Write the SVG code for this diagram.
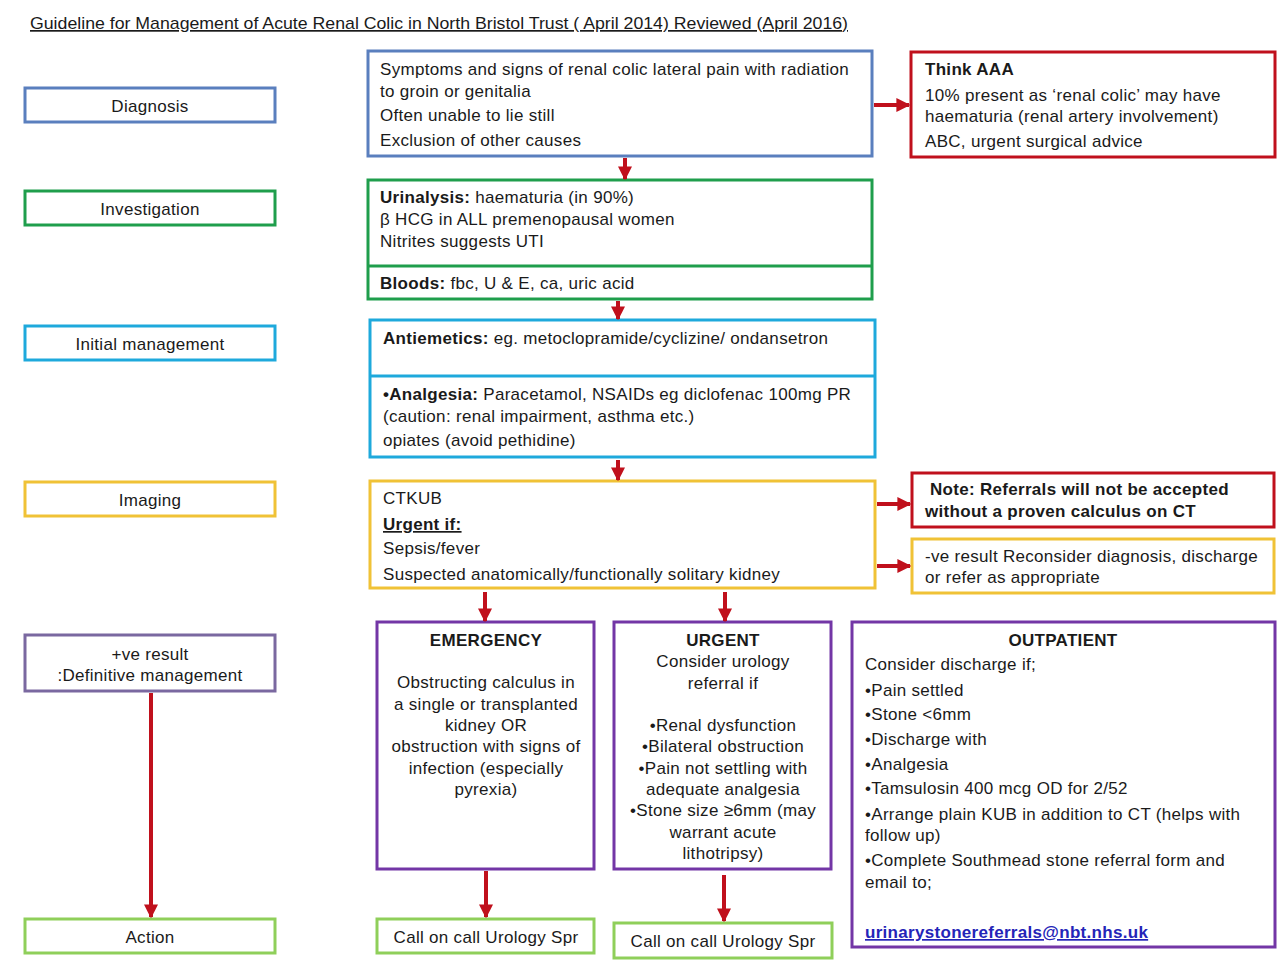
<svg xmlns="http://www.w3.org/2000/svg" width="1280" height="960" viewBox="0 0 1280 960">
<style>
text{font-family:"Liberation Sans",Arial,sans-serif;font-size:17px;letter-spacing:0.3px;fill:#1a1a1a}
.t{letter-spacing:0}
.b{font-weight:bold}
.c{text-anchor:middle}
.box{fill:#fff;stroke-width:3}
.blue{stroke:#5a7fbe}
.green{stroke:#1f9e4c}
.cyan{stroke:#1ea9dc}
.yellow{stroke:#f0c236}
.red{stroke:#c0101c}
.purple{stroke:#7336a6}
.lgreen{stroke:#8fcf5a}
.gpurple{stroke:#7a68a0}
.conn{stroke:#c0101c;stroke-width:4;fill:none}
</style>
<defs>
<marker id="ah" viewBox="0 0 10 10" refX="9" refY="5" markerWidth="3.5" markerHeight="3.5" orient="auto" markerUnits="strokeWidth">
<path d="M0,0 L10,5 L0,10 z" fill="#c0101c"/>
</marker>
</defs>
<rect width="1280" height="960" fill="#fff"/>
<text class="t" x="30" y="29" textLength="818" lengthAdjust="spacingAndGlyphs" text-decoration="underline">Guideline for Management of Acute Renal Colic in North Bristol Trust ( April 2014) Reviewed (April 2016)</text>

<g id="lbl-diagnosis"><rect class="box blue" x="25" y="88" width="250" height="34"/><text class="c" x="150" y="112">Diagnosis</text></g>
<g id="lbl-investigation"><rect class="box green" x="25" y="191" width="250" height="34"/><text class="c" x="150" y="215">Investigation</text></g>
<g id="lbl-initial"><rect class="box cyan" x="25" y="326" width="250" height="34"/><text class="c" x="150" y="350">Initial management</text></g>
<g id="lbl-imaging"><rect class="box yellow" x="25" y="482" width="250" height="34"/><text class="c" x="150" y="506">Imaging</text></g>
<g id="lbl-definitive"><rect class="box gpurple" x="25" y="635" width="250" height="56"/><text class="c" x="150" y="660">+ve result</text><text class="c" x="150" y="681">:Definitive management</text></g>
<g id="lbl-action"><rect class="box lgreen" x="25" y="919" width="250" height="34"/><text class="c" x="150" y="943">Action</text></g>

<g id="diagnosis"><rect class="box blue" x="368" y="51" width="504" height="105"/>
<text x="380" y="75">Symptoms and signs of renal colic lateral pain with radiation</text>
<text x="380" y="97">to groin or genitalia</text>
<text x="380" y="121">Often unable to lie still</text>
<text x="380" y="146">Exclusion of other causes</text></g>

<g id="aaa"><rect class="box red" x="911" y="52" width="364" height="105"/>
<text class="b" x="925" y="75">Think AAA</text>
<text x="925" y="101">10% present as ‘renal colic’ may have</text>
<text x="925" y="122">haematuria (renal artery involvement)</text>
<text x="925" y="147">ABC, urgent surgical advice</text></g>

<g id="investigation"><rect class="box green" x="368" y="180" width="504" height="119"/>
<line class="green" stroke-width="3" x1="368" y1="266" x2="872" y2="266"/>
<text x="380" y="203"><tspan class="b">Urinalysis:</tspan> haematuria (in 90%)</text>
<text x="380" y="225">β HCG in ALL premenopausal women</text>
<text x="380" y="247">Nitrites suggests UTI</text>
<text x="380" y="289"><tspan class="b">Bloods:</tspan> fbc, U &amp; E, ca, uric acid</text></g>

<g id="initial"><rect class="box cyan" x="370" y="320" width="505" height="137"/>
<line class="cyan" stroke-width="3" x1="370" y1="376" x2="875" y2="376"/>
<text x="383" y="344"><tspan class="b">Antiemetics:</tspan> eg. metoclopramide/cyclizine/ ondansetron</text>
<text x="383" y="400"><tspan class="b">•Analgesia:</tspan> Paracetamol, NSAIDs eg diclofenac 100mg PR</text>
<text x="383" y="422">(caution: renal impairment, asthma etc.)</text>
<text x="383" y="446">opiates (avoid pethidine)</text></g>

<g id="imaging"><rect class="box yellow" x="370" y="481" width="505" height="107"/>
<text x="383" y="504">CTKUB</text>
<text class="b" x="383" y="530" text-decoration="underline">Urgent if:</text>
<text x="383" y="554">Sepsis/fever</text>
<text x="383" y="580">Suspected anatomically/functionally solitary kidney</text></g>

<g id="note"><rect class="box red" x="912" y="473" width="362" height="54"/>
<text class="b" x="925" y="495" xml:space="preserve"> Note: Referrals will not be accepted</text>
<text class="b" x="925" y="517">without a proven calculus on CT</text></g>

<g id="negative"><rect class="box yellow" x="912" y="539" width="362" height="54"/>
<text x="925" y="562">-ve result Reconsider diagnosis, discharge</text>
<text x="925" y="583">or refer as appropriate</text></g>

<g id="emergency"><rect class="box purple" x="377" y="622" width="217" height="247"/>
<text class="b c" x="486" y="646">EMERGENCY</text>
<text class="c" x="486" y="688">Obstructing calculus in</text>
<text class="c" x="486" y="710">a single or transplanted</text>
<text class="c" x="486" y="731">kidney OR</text>
<text class="c" x="486" y="752">obstruction with signs of</text>
<text class="c" x="486" y="774">infection (especially</text>
<text class="c" x="486" y="795">pyrexia)</text></g>

<g id="urgent"><rect class="box purple" x="614" y="622" width="217" height="247"/>
<text class="b c" x="723" y="646">URGENT</text>
<text class="c" x="723" y="667">Consider urology</text>
<text class="c" x="723" y="689">referral if</text>
<text class="c" x="723" y="731">•Renal dysfunction</text>
<text class="c" x="723" y="752">•Bilateral obstruction</text>
<text class="c" x="723" y="774">•Pain not settling with</text>
<text class="c" x="723" y="795">adequate analgesia</text>
<text class="c" x="723" y="816">•Stone size ≥6mm (may</text>
<text class="c" x="723" y="838">warrant acute</text>
<text class="c" x="723" y="859">lithotripsy)</text></g>

<g id="outpatient"><rect class="box purple" x="852" y="622" width="423" height="325"/>
<text class="b c" x="1063" y="646">OUTPATIENT</text>
<text x="865" y="670">Consider discharge if;</text>
<text x="865" y="696">•Pain settled</text>
<text x="865" y="720">•Stone &lt;6mm</text>
<text x="865" y="745">•Discharge with</text>
<text x="865" y="770">•Analgesia</text>
<text x="865" y="794">•Tamsulosin 400 mcg OD for 2/52</text>
<text x="865" y="820">•Arrange plain KUB in addition to CT (helps with</text>
<text x="865" y="841">follow up)</text>
<text x="865" y="866">•Complete Southmead stone referral form and</text>
<text x="865" y="888">email to;</text>
<text class="b" x="865" y="938" style="fill:#2424b8" text-decoration="underline">urinarystonereferrals@nbt.nhs.uk</text></g>

<g id="call1"><rect class="box lgreen" x="377" y="919" width="217" height="34"/><text class="c" x="486" y="943">Call on call Urology Spr</text></g>
<g id="call2"><rect class="box lgreen" x="614" y="923" width="218" height="35"/><text class="c" x="723" y="947">Call on call Urology Spr</text></g>

<g id="connectors">
<line class="conn" x1="151" y1="693" x2="151" y2="917" marker-end="url(#ah)"/>
<line class="conn" x1="874" y1="105" x2="909" y2="105" marker-end="url(#ah)"/>
<line class="conn" x1="625" y1="158" x2="625" y2="179" marker-end="url(#ah)"/>
<line class="conn" x1="618" y1="301" x2="618" y2="319" marker-end="url(#ah)"/>
<line class="conn" x1="618" y1="460" x2="618" y2="480" marker-end="url(#ah)"/>
<line class="conn" x1="877" y1="504" x2="910" y2="504" marker-end="url(#ah)"/>
<line class="conn" x1="877" y1="566" x2="910" y2="566" marker-end="url(#ah)"/>
<line class="conn" x1="485" y1="592" x2="485" y2="621" marker-end="url(#ah)"/>
<line class="conn" x1="725" y1="592" x2="725" y2="621" marker-end="url(#ah)"/>
<line class="conn" x1="486" y1="871" x2="486" y2="917" marker-end="url(#ah)"/>
<line class="conn" x1="724" y1="875" x2="724" y2="921" marker-end="url(#ah)"/>
</g>
</svg>
